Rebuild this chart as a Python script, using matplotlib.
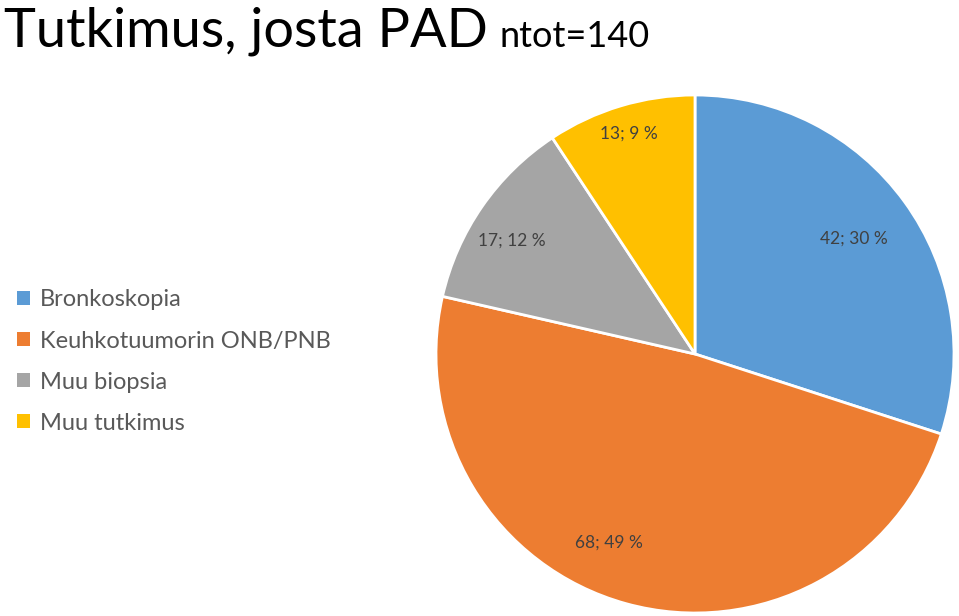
import numpy as np
import matplotlib.pyplot as plt
from matplotlib.patches import Patch

categories = ['Bronkoskopia', 'Keuhkotuumorin ONB/PNB', 'Muu biopsia', 'Muu tutkimus']
counts = [42, 68, 17, 13]
colors = ['#5B9BD5', '#ED7D31', '#A5A5A5', '#FFC000']
n_tot = 140

plt.rcParams['font.family'] = ['Lato', 'DejaVu Sans']

fig = plt.figure(figsize=(9.59, 6.16), dpi=100)
ax = fig.add_axes([0, 0, 1, 1])

cx, cy, R = 695, 262, 259
wedges, _ = ax.pie(counts, colors=colors, startangle=90, counterclock=False,
                   center=(cx, cy), radius=R, frame=True,
                   wedgeprops=dict(edgecolor='white', linewidth=2))
ax.set_xlim(0, 959)
ax.set_ylim(0, 616)
ax.set_aspect('equal')
ax.axis('off')

# label placement (fraction of radius, angle shift in degrees)
lab_dist = [0.76, 0.80, 0.83, 0.89]
lab_shift = [0, -9, 3, 0]
for w, c, d, s in zip(wedges, counts, lab_dist, lab_shift):
    ang = np.deg2rad((w.theta1 + w.theta2) / 2 + s)
    pct = round(100 * c / n_tot)
    ax.text(cx + d * R * np.cos(ang), cy + d * R * np.sin(ang), f'{c}; {pct} %',
            ha='center', va='center', fontsize=12.5, color='#404040')

fig.text(0.004, 0.924, 'Tutkimus, josta PAD', fontsize=39, color='black',
         va='baseline', ha='left')
fig.text(0.521, 0.924, f'ntot={n_tot}', fontsize=26, color='black',
         va='baseline', ha='left')

handles = [Patch(facecolor=c, edgecolor='none') for c in colors]
leg = fig.legend(handles, categories, loc='center left', bbox_to_anchor=(0.0, 0.413),
                 frameon=False, fontsize=17, labelcolor='#595959',
                 handlelength=0.55, handleheight=0.55, handletextpad=0.45,
                 labelspacing=0.85, borderpad=0.2)

fig.savefig('out.png', dpi=100)
